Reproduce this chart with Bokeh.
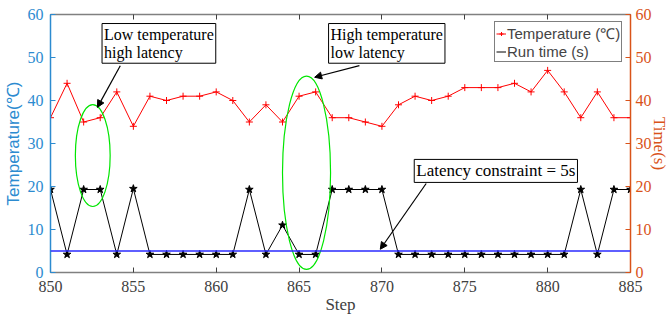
from bokeh.plotting import figure
from bokeh.models import (Range1d, LinearAxis, Span, Label, Arrow, NormalHead,
                          Legend, LegendItem, SingleIntervalTicker)
from bokeh.embed import file_html
from bokeh.resources import INLINE

steps = list(range(850, 886))
temperature = [36, 44, 35, 36, 42, 34, 41, 40, 41, 41, 42, 40, 35, 39, 35, 41, 42, 36,
               36, 35, 34, 39, 41, 40, 41, 43, 43, 43, 44, 42, 47, 42, 36, 42, 36, 36]
run_time = [19.3, 4.2, 19.3, 19.3, 4.2, 19.5, 4.2, 4.2, 4.2, 4.2, 4.2, 4.2, 19.3, 4.2,
            11.0, 4.2, 4.2, 19.3, 19.3, 19.3, 19.3, 4.2, 4.2, 4.2, 4.2, 4.2, 4.2, 4.2,
            4.2, 4.2, 4.2, 4.2, 19.3, 4.2, 19.3, 19.3]
latency_constraint = 5

ellipse_x = [852.55, 865.45]
ellipse_y = [27.2, 23.2]
ellipse_w = [2.1, 2.9]
ellipse_h = [23.7, 45.0]

BLUE = "#2c8bd0"
ORANGE = "#D95319"
GREY = "#404040"
SERIF = "'Liberation Serif', 'Times New Roman', serif"
SANS = "'Liberation Sans', Arial, sans-serif"

p = figure(width=671, height=316, output_backend="svg", toolbar_location=None,
           x_range=Range1d(850, 885), y_range=Range1d(0, 60),
           min_border_left=50, min_border_right=39, min_border_top=14, min_border_bottom=44)
p.extra_y_ranges = {"time": Range1d(0, 60)}
p.grid.visible = False
p.background_fill_color = "white"
p.border_fill_color = "white"
p.outline_line_color = None

# bottom axis
xa = p.xaxis[0]
xa.ticker = SingleIntervalTicker(interval=5)
xa.axis_label = "Step"
xa.axis_label_text_font = SERIF
xa.axis_label_text_font_style = "normal"
xa.axis_label_text_font_size = "17px"
xa.axis_label_text_color = GREY
xa.axis_label_standoff = 0
xa.major_label_text_font = SERIF
xa.major_label_text_font_size = "16px"
xa.major_label_text_color = GREY
xa.major_label_standoff = 4
xa.axis_line_color = "#808080"
xa.axis_line_width = 1.5
xa.major_tick_line_color = GREY
xa.major_tick_in = 5
xa.major_tick_out = 0
xa.minor_tick_line_color = None

# top axis (ticks only)
ta = LinearAxis(ticker=SingleIntervalTicker(interval=5))
ta.major_label_text_font_size = "1px"
ta.major_label_text_color = None
ta.major_label_standoff = 0
ta.axis_line_color = "#808080"
ta.axis_line_width = 1.5
ta.major_tick_line_color = GREY
ta.major_tick_in = 5
ta.major_tick_out = 0
ta.minor_tick_line_color = None
p.add_layout(ta, "above")

# left axis
ya = p.yaxis[0]
ya.ticker = SingleIntervalTicker(interval=10)
ya.axis_label = "Temperature(℃)"
ya.axis_label_text_font = SANS
ya.axis_label_text_font_style = "normal"
ya.axis_label_text_font_size = "17px"
ya.axis_label_text_color = BLUE
ya.axis_label_standoff = 2
ya.major_label_text_font = SERIF
ya.major_label_text_font_size = "16px"
ya.major_label_text_color = BLUE
ya.major_label_standoff = 3
ya.axis_line_color = BLUE
ya.axis_line_width = 1.5
ya.major_tick_line_color = BLUE
ya.major_tick_in = 5
ya.major_tick_out = 0
ya.minor_tick_line_color = None

# right axis
ra = LinearAxis(y_range_name="time", ticker=SingleIntervalTicker(interval=10))
ra.axis_label = "Time(s)"
ra.axis_label_text_font = SERIF
ra.axis_label_text_font_style = "normal"
ra.axis_label_text_font_size = "17px"
ra.axis_label_text_color = ORANGE
ra.axis_label_standoff = -5
ra.major_label_text_font = SERIF
ra.major_label_text_font_size = "16px"
ra.major_label_text_color = ORANGE
ra.major_label_standoff = 1
ra.axis_line_color = ORANGE
ra.axis_line_width = 1.5
ra.major_tick_line_color = ORANGE
ra.major_tick_in = 5
ra.major_tick_out = 0
ra.minor_tick_line_color = None
p.add_layout(ra, "right")

# latency constraint line
p.add_layout(Span(location=latency_constraint, dimension="width", y_range_name="time",
                  line_color="#2a2aff", line_width=1.3))

# series
t_line = p.line(steps, temperature, line_color="red", line_width=1)
t_mark = p.scatter(steps, temperature, marker="cross", size=7, line_color="red", line_width=1)
r_line = p.line(steps, run_time, line_color="black", line_width=1, y_range_name="time")
p.scatter(steps, run_time, marker="star", size=8, fill_color="black", line_color="black",
          y_range_name="time")

# ellipses
p.ellipse(ellipse_x, ellipse_y, width=ellipse_w, height=ellipse_h,
          fill_color=None, line_color="#00e600", line_width=1.2)

# annotation boxes
def box(x, y, txt, size="16px"):
    p.add_layout(Label(x=x, y=y, text=txt, anchor="top_left", text_font=SERIF,
                       text_font_size=size, text_color="black", padding=2,
                       text_line_height=1.1,
                       border_line_color="black", border_line_width=1,
                       background_fill_color="white"))

box(853.11, 57.9, "Low temperature\nhigh latency")
box(866.78, 57.9, "High temperature\nlow latency")
box(871.95, 26.3, "Latency constraint = 5s", "17px")

def arrow(x0, y0, x1, y1):
    p.add_layout(Arrow(end=NormalHead(size=7, fill_color="black", line_color="black"),
                       x_start=x0, y_start=y0, x_end=x1, y_end=y1,
                       line_color="black", line_width=1.2))

arrow(854.21, 48.1, 852.83, 38.4)
arrow(868.64, 48.1, 865.94, 45.4)
arrow(872.67, 20.7, 869.9, 5.4)

legend = Legend(items=[LegendItem(label="Temperature (℃)", renderers=[t_line, t_mark]),
                       LegendItem(label="Run time (s)", renderers=[r_line])],
                location=(444, 210))
legend.label_text_font = SANS
legend.label_text_font_size = "15px"
legend.label_standoff = 1
legend.glyph_width = 10
legend.glyph_height = 17
legend.spacing = 0
legend.padding = 1
legend.margin = 0
legend.label_height = 17
legend.border_line_color = "black"
legend.border_line_width = 1
legend.background_fill_alpha = 1
p.add_layout(legend, "center")

open("out.html", "w").write(file_html(p, INLINE))
